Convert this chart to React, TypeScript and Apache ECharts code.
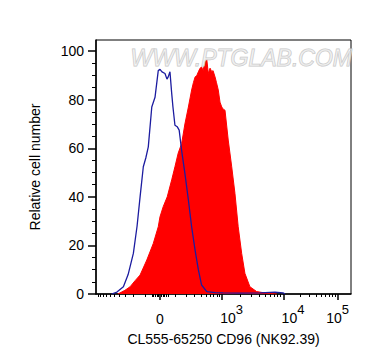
import React, { useEffect, useRef } from "react";
import * as echarts from "echarts";

// Histogram data on a 0–1024 display-channel scale (biexponential display)
const redChannels = [88, 116, 137, 157, 177, 204, 230, 250, 257, 270, 286, 304, 317, 330, 344, 357, 371, 384, 391, 398, 405, 411, 418, 424, 430, 438, 445, 451, 458, 465, 470, 478, 484, 491, 498, 505, 512, 518, 531, 545, 558, 571, 585, 598, 618, 645, 686, 726];
const redCounts = [0, 1.5, 3, 5.5, 7.8, 14, 20.8, 27.7, 31.8, 36, 40, 47, 52.4, 58, 62, 70, 77, 84, 87, 89.4, 90, 91.5, 93, 93.5, 92, 95.6, 96.5, 90.8, 93, 91.5, 92, 89.4, 87, 84, 79, 77, 76, 75.7, 63.4, 52.4, 41.4, 27.7, 16.7, 8.5, 3, 1, 0.3, 0];

const blueChannels = [63, 84, 110, 129, 150, 165, 177, 190, 200, 210, 224, 237, 250, 257, 265, 277, 285, 290, 297, 304, 309, 317, 326, 334, 344, 357, 371, 384, 398, 411, 424, 445, 478, 510, 578, 659, 719, 751, 759];
const blueCounts = [0, 0.8, 3, 8, 16.7, 28, 40, 52.4, 56, 60.6, 77, 81, 92, 92.5, 91.5, 90.8, 88.5, 89.4, 91.5, 82.6, 77, 69.5, 68.9, 67.5, 59, 49.7, 38.7, 27.7, 18, 10, 3.7, 1, 0.6, 0.5, 0.4, 0.5, 0.8, 0.5, 0];

// Axis ticks (in fluorescence values)
const xMajorValues = [0, 1e3, 1e4, 1e5];
const xMajorLabels = ["0", "10^3", "10^4", "10^5"];
const xMinorValues = [
  -1000, -900, -800, -700, -600, -500, -400, -300, -200, -100,
  -50, -40, -30, -20, -10, 10, 20, 30, 40, 50,
  100, 200, 300, 400, 500, 600, 700, 800, 900,
  2000, 3000, 4000, 5000, 6000, 7000, 8000, 9000,
  20000, 30000, 40000, 50000, 60000, 70000, 80000, 90000,
];
const yMajorTicks = [0, 20, 40, 60, 80, 100];
const yMinorTicks = [5, 10, 15, 25, 30, 35, 45, 50, 55, 65, 70, 75, 85, 90, 95];

const FONT = '"Liberation Sans", Arial, sans-serif';

// biexponential-like display transform: value -> display channel
function valueToChannel(v: number): number {
  if (v <= 1000) return 257 + 96 * Math.asinh(v / 150);
  if (v <= 1e4) return 506 + 247 * Math.log10(v / 1e3);
  return 753 + 217 * Math.log10(v / 1e4);
}

const xMajorChannels = xMajorValues.map(valueToChannel);
const xMinorChannels = xMinorValues.map(valueToChannel);

function labelFor(ch: number): string {
  let best = 0;
  let bd = Infinity;
  xMajorChannels.forEach((c, i) => {
    const d = Math.abs(c - ch);
    if (d < bd) {
      bd = d;
      best = i;
    }
  });
  const lab = xMajorLabels[best];
  if (lab.indexOf("^") < 0) return `{b0|${lab}}`;
  const [base, exp] = lab.split("^");
  const pad = best < xMajorLabels.length - 1 ? "{pad|}" : "";
  return `${pad}{b|${base}}{sup|${exp}}`;
}

export default function App() {
  const ref = useRef<HTMLDivElement>(null);
  useEffect(() => {
    if (!ref.current) return;
    const chart = echarts.init(ref.current, undefined, { renderer: "svg" });
    const red = redChannels.map((c, i) => [c, redCounts[i]]);
    const blue = blueChannels.map((c, i) => [c, blueCounts[i]]);
    chart.setOption({
      animation: false,
      backgroundColor: "#fff",
      grid: {
        left: 96,
        right: 23,
        top: 40,
        bottom: 70,
        show: true,
        borderColor: "#000",
        borderWidth: 1,
        backgroundColor: "transparent",
      },
      xAxis: [
        {
          type: "value",
          min: 0,
          max: 1024,
          position: "bottom",
          name: "CL555-65250 CD96 (NK92.39)",
          nameLocation: "middle",
          nameGap: 38,
          nameTextStyle: { fontFamily: FONT, fontSize: 14, color: "#000" },
          axisLine: { show: true, onZero: false, lineStyle: { color: "#000", width: 1.5 } },
          axisTick: { show: true, length: 6, customValues: xMajorChannels, lineStyle: { color: "#000", width: 1.5 } },
          axisLabel: {
            show: true,
            customValues: xMajorChannels,
            margin: 9,
            formatter: (v: number) => labelFor(v),
            rich: {
              b: { fontFamily: FONT, fontSize: 14, color: "#000", verticalAlign: "bottom" },
              b0: { fontFamily: FONT, fontSize: 14, color: "#000", verticalAlign: "bottom", padding: [9, 0, 0, 0] },
              sup: { fontFamily: FONT, fontSize: 13, color: "#000", verticalAlign: "bottom", padding: [0, 0, 9, 0] },
              pad: { width: 19 },
            },
          },
          splitLine: { show: false },
        },
        {
          type: "value",
          min: 0,
          max: 1024,
          position: "bottom",
          axisLine: { show: false, onZero: false },
          axisTick: { show: true, length: 3, customValues: xMinorChannels, lineStyle: { color: "#000", width: 1 } },
          axisLabel: { show: false },
          splitLine: { show: false },
        },
      ],
      yAxis: [
        {
          type: "value",
          min: 0,
          max: 104.6,
          position: "left",
          name: "Relative cell number",
          nameLocation: "middle",
          nameGap: 54,
          nameTextStyle: { fontFamily: FONT, fontSize: 14, color: "#000" },
          axisLine: { show: true, onZero: false, lineStyle: { color: "#000", width: 1.5 } },
          axisTick: { show: true, length: 8, customValues: yMajorTicks, lineStyle: { color: "#000", width: 1.5 } },
          axisLabel: {
            show: true,
            customValues: yMajorTicks,
            margin: 12,
            fontFamily: FONT,
            fontSize: 14,
            color: "#000",
          },
          splitLine: { show: false },
        },
        {
          type: "value",
          min: 0,
          max: 104.6,
          position: "left",
          axisLine: { show: false, onZero: false },
          axisTick: { show: true, length: 4, customValues: yMinorTicks, lineStyle: { color: "#000", width: 1 } },
          axisLabel: { show: false },
          splitLine: { show: false },
        },
      ],
      series: [
        {
          type: "line",
          xAxisIndex: 0,
          yAxisIndex: 0,
          data: red,
          showSymbol: false,
          symbol: "none",
          lineStyle: { color: "#ff0000", width: 1 },
          areaStyle: { color: "#ff0000", opacity: 1 },
          z: 2,
        },
        {
          type: "line",
          xAxisIndex: 0,
          yAxisIndex: 0,
          data: blue,
          showSymbol: false,
          symbol: "none",
          lineStyle: { color: "#1c1ca0", width: 1.3 },
          z: 3,
        },
      ],
      graphic: [
        {
          type: "text",
          left: 130,
          top: 46,
          z: 100,
          style: {
            text: "WWW.PTGLAB.COM",
            font: `italic 23px ${FONT}`,
            fill: "rgba(240,240,240,0.55)",
            stroke: "#c6c6c6",
            lineWidth: 1,
          },
        },
      ],
    });
    return () => chart.dispose();
  }, []);
  return <div ref={ref} style={{ width: 374, height: 364, position: "absolute", left: 0, top: 0 }} />;
}
